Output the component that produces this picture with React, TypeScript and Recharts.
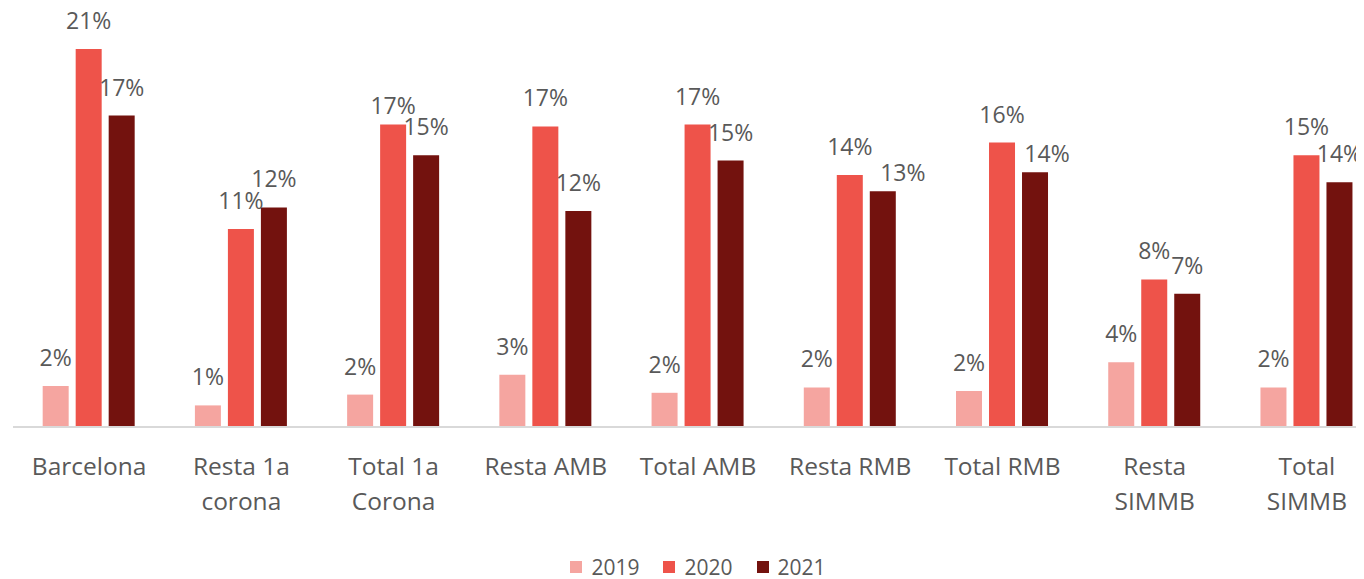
import { BarChart, Bar, XAxis, YAxis, Legend, LabelList } from 'recharts';

const categories = [
  'Barcelona',
  'Resta 1a corona',
  'Total 1a Corona',
  'Resta AMB',
  'Total AMB',
  'Resta RMB',
  'Total RMB',
  'Resta SIMMB',
  'Total SIMMB'
];

const values2019 = [0.0228, 0.012, 0.018, 0.029, 0.019, 0.022, 0.02, 0.036, 0.022];
const values2020 = [0.21, 0.11, 0.168, 0.167, 0.168, 0.14, 0.158, 0.082, 0.151];
const values2021 = [0.173, 0.122, 0.151, 0.12, 0.148, 0.131, 0.1415, 0.074, 0.136];

const series = [
  { key: 'y2019', name: '2019', color: '#F5A5A0' },
  { key: 'y2020', name: '2020', color: '#EE534A' },
  { key: 'y2021', name: '2021', color: '#73120E' }
];

// labels that were dragged a bit off their bar in the original
const labelNudge = {
  y2019: {},
  y2020: { 2: [0, 9] },
  y2021: { 5: [20, 10], 6: [12, 10] }
};

const data = categories.map((name, i) => ({
  name,
  y2019: values2019[i],
  y2020: values2020[i],
  y2021: values2021[i]
}));

const FONT = '"Open Sans", sans-serif';
const GREY = '#595959';
const TICK_SIZE = 24.5;

// greedy word wrap measured with a canvas
let ctx = null;
const wrap = (str, maxW) => {
  if (!ctx) {
    ctx = document.createElement('canvas').getContext('2d');
    ctx.font = `${TICK_SIZE}px "Open Sans"`;
  }
  const words = String(str).split(' ');
  const lines = [];
  let cur = '';
  words.forEach((w) => {
    const test = cur ? cur + ' ' + w : w;
    if (cur && ctx.measureText(test).width > maxW) {
      lines.push(cur);
      cur = w;
    } else {
      cur = test;
    }
  });
  if (cur) lines.push(cur);
  return lines;
};

const makeLabel = (key) => (props) => {
  const { x, y, width, value, index } = props;
  const [dx, dy] = labelNudge[key][index] || [0, 0];
  return (
    <text
      x={x + width / 2 + dx}
      y={y - 20 + dy}
      textAnchor="middle"
      fill={GREY}
      style={{ fontSize: 23, fontFamily: FONT }}
    >
      {Math.round(value * 100) + '%'}
    </text>
  );
};

const CategoryTick = (props) => {
  const { x, y, payload } = props;
  const lines = wrap(payload.value, 140);
  return (
    <text x={x} y={y + 40} textAnchor="middle" fill={GREY} style={{ fontSize: TICK_SIZE, fontFamily: FONT }}>
      {lines.map((l, i) => (
        <tspan key={i} x={x} dy={i === 0 ? 0 : 35}>
          {l}
        </tspan>
      ))}
    </text>
  );
};

const renderLegend = () => (
  <div style={{ display: 'flex', justifyContent: 'center', alignItems: 'center', height: 30 }}>
    {series.map((s) => (
      <div key={s.key} style={{ display: 'flex', alignItems: 'center', margin: '0 12px' }}>
        <span style={{ width: 12, height: 12, background: s.color, display: 'inline-block', marginRight: 9 }} />
        <span style={{ fontFamily: FONT, fontSize: 21, color: GREY, lineHeight: '30px' }}>{s.name}</span>
      </div>
    ))}
  </div>
);

export default function App() {
  return (
    <div style={{ width: 1356, overflow: 'hidden' }}>
      <BarChart
        width={1375}
        height={574}
        data={data}
        margin={{ top: 23, right: 0, left: 5, bottom: 0 }}
        barCategoryGap="19.5%"
        barGap={7}
      >
        <XAxis
          dataKey="name"
          interval={0}
          tickLine={false}
          axisLine={{ stroke: '#D9D9D9', strokeWidth: 2 }}
          tick={<CategoryTick />}
          height={125}
        />
        <YAxis hide domain={[0, 0.22]} />
        <Legend verticalAlign="bottom" content={renderLegend} />
        {series.map((s) => (
          <Bar key={s.key} dataKey={s.key} name={s.name} fill={s.color} isAnimationActive={false}>
            <LabelList dataKey={s.key} content={makeLabel(s.key)} />
          </Bar>
        ))}
      </BarChart>
    </div>
  );
}
